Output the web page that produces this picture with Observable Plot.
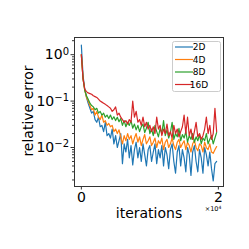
<!DOCTYPE html>
<html><head><meta charset="utf-8">
<script src="https://cdn.jsdelivr.net/npm/d3@7"></script>
<script src="https://cdn.jsdelivr.net/npm/@observablehq/plot@0.6"></script>
<style>body{margin:0;background:#fff}</style>
</head><body><div id="chart"></div>
<script>
const step = 250;
const seriesNames = ["2D", "4D", "8D", "16D"];
const colors = ["#1f77b4", "#ff7f0e", "#2ca02c", "#d62728"];
const err2D = [1.6,0.35,0.18,0.12,0.09,0.07,0.055,0.06,0.04,0.035,0.045,0.028,0.03,0.022,0.035,0.018,0.02,0.016,0.025,0.012,
0.018,0.01,0.014,0.02,0.0045,0.012,0.008,0.015,0.006,0.011,0.0042,0.009,0.013,0.006,0.01,0.005,0.012,0.007,0.004,0.009,
0.011,0.005,0.008,0.012,0.0045,0.009,0.006,0.011,0.004,0.01,0.007,0.0035,0.009,0.012,0.005,0.0028,0.008,0.011,0.004,0.009,
0.006,0.003,0.01,0.007,0.0025,0.008,0.011,0.005,0.003,0.009,0.006,0.0028,0.01,0.007,0.004,0.008,0.0035,0.0019,0.0045,0.005];
const err4D = [1.0,0.3,0.17,0.12,0.1,0.08,0.065,0.07,0.05,0.06,0.045,0.04,0.05,0.035,0.038,0.03,0.033,0.028,0.03,0.022,
0.025,0.02,0.024,0.017,0.012,0.018,0.014,0.02,0.015,0.018,0.012,0.016,0.02,0.013,0.017,0.011,0.015,0.019,0.012,0.014,
0.017,0.011,0.013,0.016,0.01,0.014,0.012,0.016,0.009,0.013,0.015,0.01,0.012,0.016,0.011,0.009,0.013,0.015,0.01,0.012,
0.014,0.009,0.013,0.011,0.008,0.012,0.014,0.01,0.0085,0.012,0.011,0.008,0.013,0.01,0.009,0.012,0.008,0.0075,0.009,0.0105];
const err8D = [1.0,0.3,0.17,0.13,0.11,0.09,0.08,0.075,0.065,0.07,0.055,0.06,0.05,0.055,0.045,0.05,0.042,0.05,0.04,0.046,
0.038,0.045,0.036,0.042,0.03,0.038,0.028,0.035,0.03,0.038,0.026,0.032,0.024,0.03,0.022,0.028,0.032,0.021,0.026,0.035,
0.02,0.025,0.018,0.03,0.022,0.017,0.026,0.02,0.038,0.018,0.024,0.016,0.021,0.035,0.015,0.02,0.017,0.026,0.014,0.019,
0.016,0.022,0.013,0.018,0.015,0.02,0.013,0.017,0.014,0.019,0.012,0.016,0.014,0.02,0.012,0.015,0.018,0.012,0.016,0.021];
const err16D = [1.0,0.3,0.18,0.16,0.15,0.145,0.14,0.13,0.125,0.12,0.11,0.1,0.095,0.09,0.085,0.08,0.075,0.07,0.06,0.065,
0.075,0.05,0.055,0.045,0.04,0.035,0.038,0.032,0.04,0.035,0.1,0.045,0.06,0.035,0.04,0.03,0.045,0.028,0.035,0.025,
0.03,0.022,0.028,0.02,0.045,0.025,0.03,0.018,0.025,0.02,0.032,0.018,0.022,0.016,0.03,0.02,0.025,0.017,0.022,0.028,
0.05,0.02,0.045,0.018,0.025,0.015,0.022,0.035,0.017,0.02,0.015,0.018,0.025,0.045,0.02,0.03,0.015,0.02,0.07,0.022];
const yMajor = [1, 0.1, 0.01];
const yMajorExps = ["0", "−1", "−2"];
const xTicks = [0, 20000];
const xTickLabels = ["0", "2"];

const all = [err2D, err4D, err8D, err16D];
const rows = [];
all.forEach((arr, s) => arr.forEach((v, i) => rows.push({series: seriesNames[s], x: i * step, y: v})));
const yMinor = [];
for (const d of [0.001, 0.01, 0.1, 1]) for (let k = 2; k <= 9; k++) yMinor.push(d * k);

const W = 249, H = 249, mL = 74, mR = 26, mT = 37, mB = 63;
const font = "DejaVu Sans";
const yLo = Math.pow(10, -2.84), yHi = Math.pow(10, 0.37);
const chart = Plot.plot({
  width: W, height: H, marginLeft: mL, marginRight: mR, marginTop: mT, marginBottom: mB,
  style: {fontFamily: font, fontSize: "14px", color: "#000", background: "#fff"},
  x: {domain: [-1000, 20750]},
  y: {type: "log", domain: [yLo, yHi]},
  color: {domain: seriesNames, range: colors},
  marks: [
    Plot.line(rows, {x: "x", y: "y", z: "series", stroke: "series", strokeWidth: 1.2}),
    Plot.frame({stroke: "#333", strokeWidth: 1}),
    Plot.axisY(yMinor.filter(v => v > yLo && v < yHi), {tickSize: 2, tickFormat: () => "", label: null, stroke: "#333"}),
    Plot.axisY(yMajor, {tickSize: 3.5, tickPadding: 2, tickFormat: d => "10^" + yMajorExps[yMajor.indexOf(d)], label: null, fontSize: 14, stroke: "#333"}),
    Plot.axisX(xTicks, {tickSize: 3.5, tickPadding: 2, tickFormat: d => xTickLabels[xTicks.indexOf(d)], label: null, fontSize: 14, stroke: "#333"})
  ]
});
document.getElementById("chart").appendChild(chart);

const svg = d3.select(chart);
// render superscripts for y tick labels
svg.selectAll("text").each(function() {
  const t = d3.select(this);
  const tx = t.text();
  if (tx.startsWith("10^")) {
    const exp = tx.slice(3);
    t.text("");
    t.append("tspan").text("10");
    t.append("tspan").attr("dy", "-0.45em").style("font-size", "10px").text(exp);
  }
});
svg.append("text").attr("x", 149).attr("y", 218).attr("text-anchor", "middle")
  .style("font-family", font).style("font-size", "14px").text("iterations");
svg.append("text").attr("transform", "translate(33,111) rotate(-90)").attr("text-anchor", "middle")
  .style("font-family", font).style("font-size", "14px").text("relative error");
const off = svg.append("text").attr("x", 213).attr("y", 211).attr("text-anchor", "middle")
  .style("font-family", font).style("font-size", "6.5px");
off.append("tspan").text("×10");
off.append("tspan").attr("dy", "-0.4em").style("font-size", "4.5px").text("4");
const lg = svg.append("g");
lg.append("rect").attr("x", 172.5).attr("y", 41.5).attr("width", 48).attr("height", 50).attr("rx", 2)
  .attr("fill", "#fff").attr("fill-opacity", 0.8).attr("stroke", "#ccc");
seriesNames.forEach((n, i) => {
  const yy = 47 + i * 12.5;
  lg.append("line").attr("x1", 175).attr("x2", 193).attr("y1", yy).attr("y2", yy)
    .attr("stroke", colors[i]).attr("stroke-width", 1.2);
  lg.append("text").attr("x", 199).attr("y", yy).attr("dy", "0.35em")
    .style("font-family", font).style("font-size", "9px").text(n);
});
</script></body></html>
